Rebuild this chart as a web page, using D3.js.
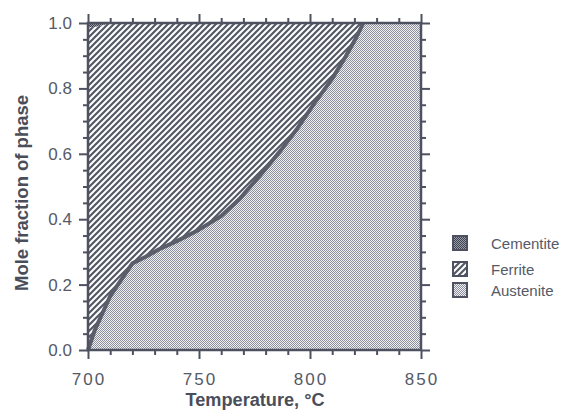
<!DOCTYPE html>
<html><head><meta charset="utf-8">
<script src="https://cdn.jsdelivr.net/npm/d3@7"></script>
<style>body{margin:0;background:#fff}svg{display:block}</style>
</head><body>
<svg id="c" width="579" height="411"></svg>
<script>
const temps      = [700, 703, 707, 710, 715, 720, 726, 732, 740, 750, 760, 768, 777, 787, 794, 802, 810, 816, 821, 824, 850];
const austenite  = [0.0, 0.06, 0.12, 0.165, 0.215, 0.265, 0.285, 0.308, 0.333, 0.368, 0.41, 0.46, 0.53, 0.612, 0.675, 0.755, 0.83, 0.897, 0.958, 1.0, 1.0];
const cementite  = [0.014, 0.012, 0.006, 0, 0, 0, 0, 0, 0, 0, 0, 0, 0, 0, 0, 0, 0, 0, 0, 0, 0];
const phases     = ["Cementite", "Ferrite", "Austenite"];
const xTicks     = [700, 750, 800, 850];
const yTicks     = [0.0, 0.2, 0.4, 0.6, 0.8, 1.0];

const svg = d3.select("#c");
const M = {l: 88, r: 421, t: 23, b: 350};
const x = d3.scaleLinear().domain([700, 850]).range([M.l, M.r]);
const y = d3.scaleLinear().domain([0, 1]).range([M.b, M.t]);
const ink = "#4e5260";

const defs = svg.append("defs");
const pa = defs.append("pattern").attr("id","aus").attr("patternUnits","userSpaceOnUse").attr("width",2).attr("height",2);
pa.append("rect").attr("width",2).attr("height",2).attr("fill","#f1f1f4");
pa.append("rect").attr("x",0).attr("y",0).attr("width",1).attr("height",1).attr("fill","#8c909c");
pa.append("rect").attr("x",1).attr("y",1).attr("width",1).attr("height",1).attr("fill","#8c909c");
const pf = defs.append("pattern").attr("id","fer").attr("patternUnits","userSpaceOnUse").attr("width",6).attr("height",6);
pf.append("rect").attr("width",6).attr("height",6).attr("fill","#fff");
pf.append("path").attr("d","M-1,1 L1,-1 M0,6 L6,0 M5,7 L7,5").attr("stroke","#555966").attr("stroke-width",2.2);
const pc = defs.append("pattern").attr("id","cem").attr("patternUnits","userSpaceOnUse").attr("width",2).attr("height",2);
pc.append("rect").attr("width",2).attr("height",2).attr("fill","#9a9eaa");
pc.append("rect").attr("width",1).attr("height",1).attr("fill","#3e4250");
pc.append("rect").attr("x",1).attr("y",1).attr("width",1).attr("height",1).attr("fill","#3e4250");

const data = temps.map((t,i)=>({t, a: austenite[i], c: cementite[i]}));

svg.append("path").datum(data)
  .attr("d", d3.area().x(d=>x(d.t)).y0(d=>y(d.a)).y1(d=>y(1-d.c)))
  .attr("fill","url(#fer)");
svg.append("path").datum(data.filter(d=>d.t<=710))
  .attr("d", d3.area().x(d=>x(d.t)).y0(d=>y(1-d.c)).y1(y(1)))
  .attr("fill","url(#cem)");
svg.append("path").datum(data)
  .attr("d", d3.area().x(d=>x(d.t)).y0(y(0)).y1(d=>y(d.a)))
  .attr("fill","url(#aus)");
svg.append("path").datum(data.filter(d=>d.t<=824))
  .attr("d", d3.line().x(d=>x(d.t)).y(d=>y(d.a)))
  .attr("fill","none").attr("stroke","#5a5e6a").attr("stroke-width",4).attr("stroke-linejoin","round");

function styleAxis(g){
  g.select(".domain").remove();
  g.selectAll("line").attr("stroke",ink).attr("stroke-width",2);
  g.selectAll("text").remove();
}
const minorX = d3.range(700, 851, 10), minorY = d3.range(0, 1.001, 0.05);
const isMajY = d=>Math.abs(d*5-Math.round(d*5))<1e-6;
const axB = svg.append("g").attr("transform",`translate(0,${M.b})`);
axB.call(d3.axisBottom(x).tickValues(minorX).tickSize(5)).call(styleAxis);
axB.selectAll(".tick line").filter(d=>d%50===0).attr("y2",9);
const axT = svg.append("g").attr("transform",`translate(0,${M.t})`);
axT.call(d3.axisTop(x).tickValues(minorX).tickSize(5)).call(styleAxis);
axT.selectAll(".tick line").filter(d=>d%50===0).attr("y2",-9);
const axL = svg.append("g").attr("transform",`translate(${M.l},0)`);
axL.call(d3.axisLeft(y).tickValues(minorY).tickSize(5)).call(styleAxis);
axL.selectAll(".tick line").filter(isMajY).attr("x2",-9);
const axR = svg.append("g").attr("transform",`translate(${M.r},0)`);
axR.call(d3.axisRight(y).tickValues(minorY).tickSize(5)).call(styleAxis);
axR.selectAll(".tick line").filter(isMajY).attr("x2",9);

svg.append("rect").attr("x",M.l).attr("y",M.t).attr("width",M.r-M.l).attr("height",M.b-M.t)
  .attr("fill","none").attr("stroke",ink).attr("stroke-width",2.5);

const lab = "#555a66";
svg.append("g").selectAll("text").data(xTicks).join("text")
  .attr("x",d=>x(d)+1).attr("y",385).attr("text-anchor","middle")
  .attr("font-family","Liberation Sans, Arial, sans-serif").attr("font-size",17)
  .attr("letter-spacing",2).attr("fill",lab).text(d=>d);
svg.append("g").selectAll("text").data(yTicks).join("text")
  .attr("x",72).attr("y",d=>y(d)+6).attr("text-anchor","end")
  .attr("font-family","Liberation Sans, Arial, sans-serif").attr("font-size",17)
  .attr("fill",lab).text(d=>d.toFixed(1));

svg.append("text").attr("x",255).attr("y",406).attr("text-anchor","middle")
  .attr("font-family","Liberation Sans Narrow, Arial Narrow, Liberation Sans, sans-serif").attr("font-weight","bold")
  .attr("font-size",18).attr("fill","#4a4e5a").attr("textLength",139).attr("lengthAdjust","spacingAndGlyphs")
  .text("Temperature, °C");
svg.append("text").attr("transform","translate(28,193) rotate(-90)").attr("text-anchor","middle")
  .attr("font-family","Liberation Sans Narrow, Arial Narrow, Liberation Sans, sans-serif").attr("font-weight","bold")
  .attr("font-size",18).attr("fill","#4a4e5a").attr("textLength",196).attr("lengthAdjust","spacingAndGlyphs")
  .text("Mole fraction of phase");

const legY = [243, 269, 290];
const legFill = ["url(#cem)","url(#fer)","url(#aus)"];
const leg = svg.append("g").selectAll("g").data(phases).join("g")
  .attr("transform",(d,i)=>`translate(453,${legY[i]})`);
leg.append("rect").attr("x",0).attr("y",-7).attr("width",14).attr("height",14)
  .attr("fill",(d,i)=>legFill[i]).attr("stroke",ink).attr("stroke-width",2);
leg.append("text").attr("x",38).attr("y",6).attr("font-family","Liberation Sans, Arial, sans-serif")
  .attr("font-size",15).attr("fill",lab).text(d=>d);
</script>
</body></html>
